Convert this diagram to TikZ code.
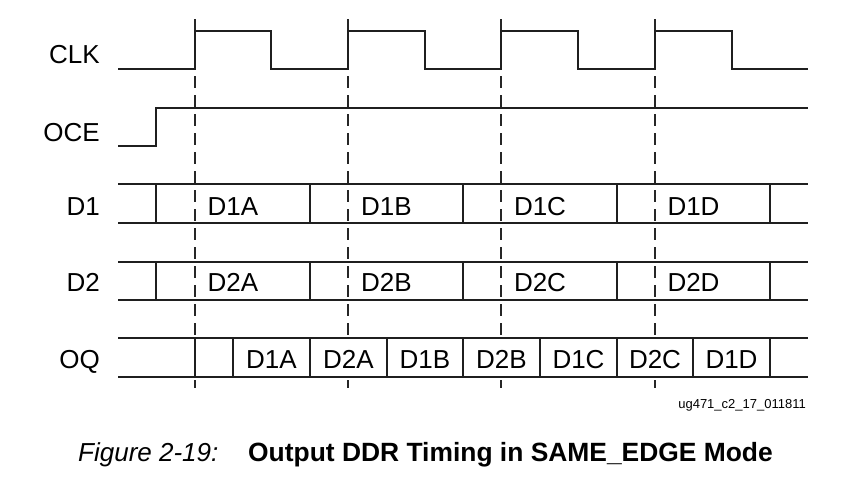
\documentclass[tikz,border=0pt]{standalone}
\usepackage{fontspec}
\setmainfont{Liberation Sans}
\begin{document}
\begin{tikzpicture}[x=1pt,y=-1pt,
  sig/.style={line width=2.2pt, line join=miter, color=black!88},
  guide/.style={line width=1.3pt, dash pattern=on 12pt off 7pt, color=black!85},
  rowname/.style={anchor=base east, inner sep=0pt, font=\fontsize{26}{26}\selectfont},
  cell/.style={anchor=base, inner sep=0pt, font=\fontsize{26}{26}\selectfont},
  tag/.style={anchor=base east, inner sep=0pt, font=\fontsize{13}{13}\selectfont},
  capfig/.style={anchor=base west, inner sep=0pt, font=\fontsize{26}{26}\selectfont\itshape},
  captitle/.style={anchor=base west, inner sep=0pt, font=\fontsize{26.4}{26.4}\selectfont\bfseries}]
\useasboundingbox (0,0) rectangle (864,482);

% clock edge guides
\foreach \x in {195,348,501,655}
  \draw[guide] (\x,19) -- (\x,388);

% the OQ bus interior hides the guides
\fill[white] (118,338) rectangle (808,377);

% row names
\node[rowname] (nclk) at (100,63) {CLK};
\node[rowname] (noce) at (100,141) {OCE};
\node[rowname] (nd1) at (100,215.5) {D1};
\node[rowname] (nd2) at (100,291.5) {D2};
\node[rowname] (noq) at (100,368) {OQ};

% CLK
\draw[sig] (118,69)
  \foreach \r/\f in {195/271,348/425,501/578,655/732} {
    -- (\r,69) -- (\r,31) -- (\f,31) -- (\f,69)
  } -- (808,69);

% OCE
\draw[sig] (118,146) -- (156,146) -- (156,108) -- (808,108);

% D1 and D2 buses
\foreach \top/\bot in {184/223, 262/300} {
  \draw[sig] (118,\top) -- (808,\top);
  \draw[sig] (118,\bot) -- (808,\bot);
  \foreach \x in {156,310,463,617,770}
    \draw[sig] (\x,\top) -- (\x,\bot);
}
\foreach \x/\l in {233/A,386.5/B,540/C,693.5/D} {
  \node[cell] (d1\l) at (\x,215) {D1\l};
  \node[cell] (d2\l) at (\x,291.5) {D2\l};
}

% OQ bus
\draw[sig] (118,338) -- (808,338);
\draw[sig] (118,377) -- (808,377);
\foreach \x in {195,233,310,387,463,540,617,693,770}
  \draw[sig] (\x,338) -- (\x,377);
\foreach \x/\t/\n in {271.5/D1A/0,348.5/D2A/1,425/D1B/2,501.5/D2B/3,578.5/D1C/4,655/D2C/5,731.5/D1D/6}
  \node[cell] (oq\n) at (\x,368) {\t};

% drawing tag and caption
\node[tag] (tagid) at (806,408) {ug471\_c2\_17\_011811};
\node[capfig] (capa) at (78,461) {Figure 2-19:};
\node[captitle] (capb) at (248,461) {Output DDR Timing in SAME\_EDGE Mode};
\end{tikzpicture}
\end{document}
